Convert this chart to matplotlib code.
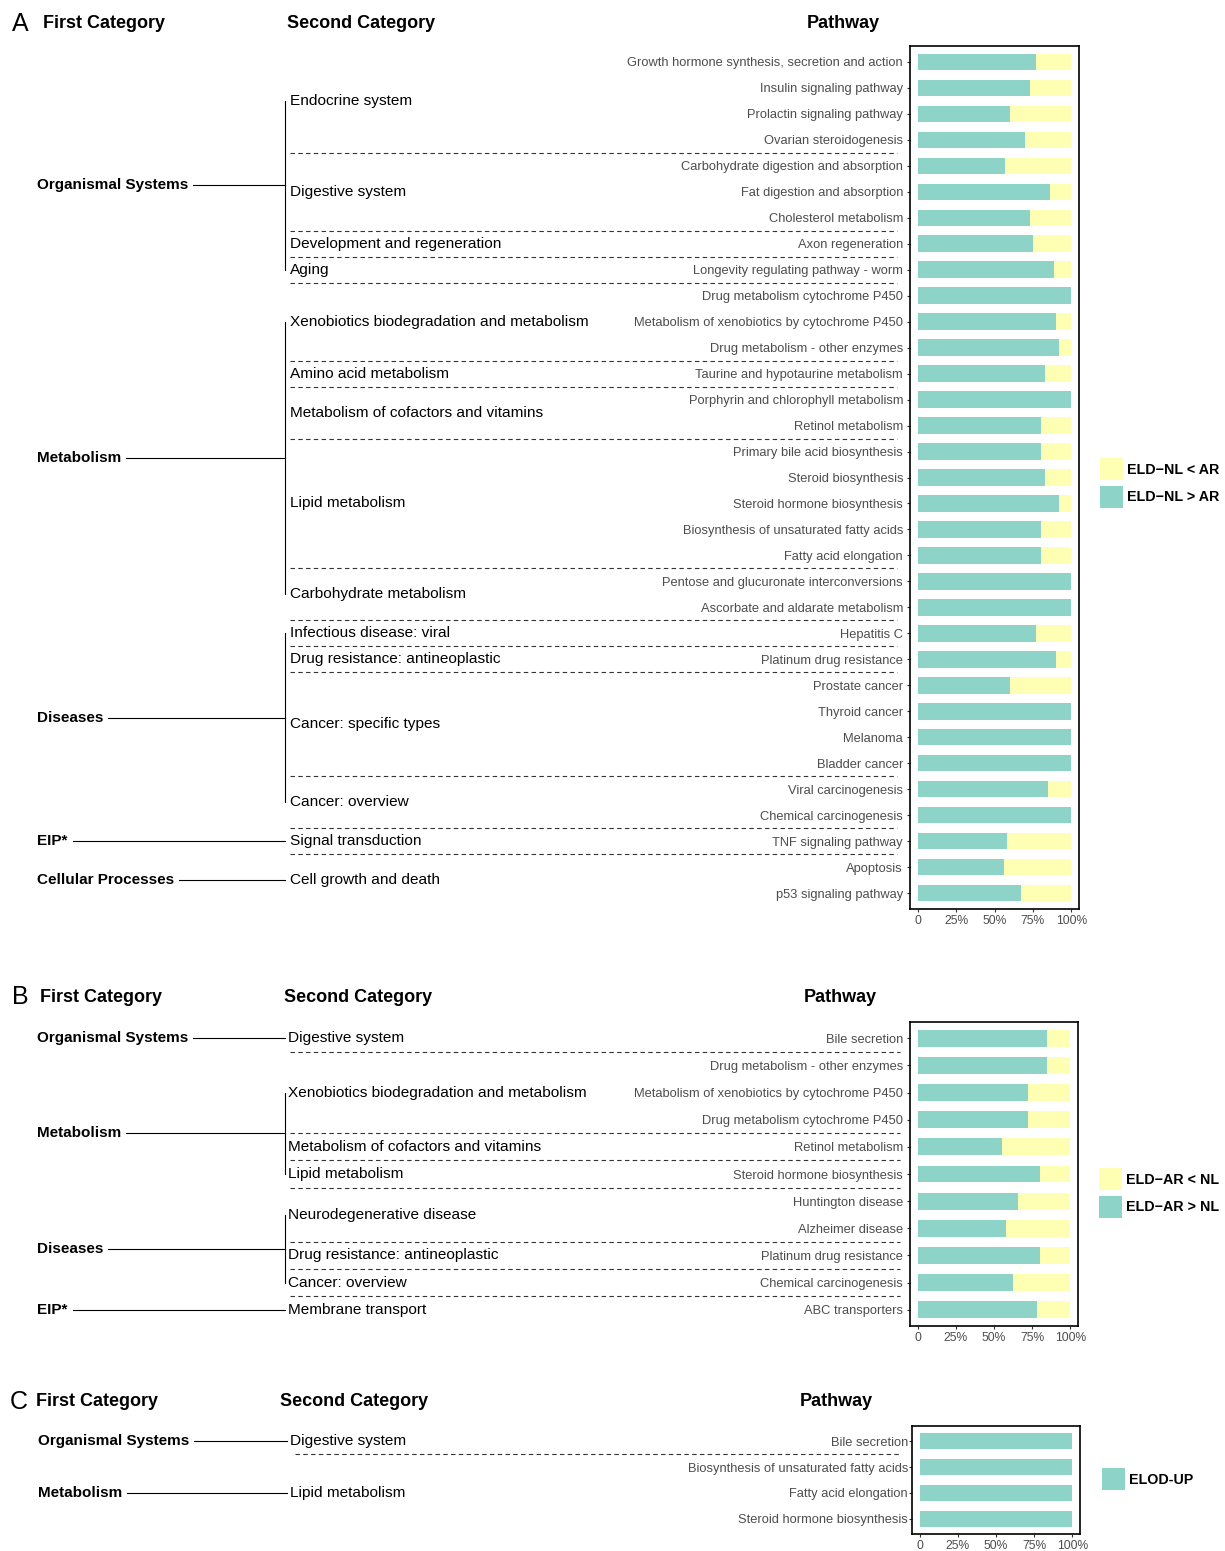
import numpy as np
import matplotlib
matplotlib.use("Agg")
import matplotlib.pyplot as plt
from matplotlib import transforms
from matplotlib.patches import Patch

plt.rcParams["font.family"] = ["Liberation Sans", "DejaVu Sans"]

GREEN = "#8DD3C7"
YELLOW = "#FFFFB3"

# ---- panel A: ELD-NL vs AR ----
pathways_a = [
    "Growth hormone synthesis, secretion and action", "Insulin signaling pathway",
    "Prolactin signaling pathway", "Ovarian steroidogenesis",
    "Carbohydrate digestion and absorption", "Fat digestion and absorption",
    "Cholesterol metabolism", "Axon regeneration", "Longevity regulating pathway - worm",
    "Drug metabolism cytochrome P450", "Metabolism of xenobiotics by cytochrome P450",
    "Drug metabolism - other enzymes", "Taurine and hypotaurine metabolism",
    "Porphyrin and chlorophyll metabolism", "Retinol metabolism",
    "Primary bile acid biosynthesis", "Steroid biosynthesis", "Steroid hormone biosynthesis",
    "Biosynthesis of unsaturated fatty acids", "Fatty acid elongation",
    "Pentose and glucuronate interconversions", "Ascorbate and aldarate metabolism",
    "Hepatitis C", "Platinum drug resistance", "Prostate cancer", "Thyroid cancer",
    "Melanoma", "Bladder cancer", "Viral carcinogenesis", "Chemical carcinogenesis",
    "TNF signaling pathway", "Apoptosis", "p53 signaling pathway",
]
up_a = [0.77, 0.73, 0.60, 0.70, 0.57, 0.86, 0.73, 0.75, 0.89, 1.00, 0.90,
        0.92, 0.83, 1.00, 0.80, 0.80, 0.83, 0.92, 0.80, 0.80, 1.00, 1.00,
        0.77, 0.90, 0.60, 1.00, 1.00, 1.00, 0.85, 1.00, 0.58, 0.565, 0.67]
second_a = [
    "Endocrine system", "Digestive system", "Development and regeneration", "Aging",
    "Xenobiotics biodegradation and metabolism", "Amino acid metabolism",
    "Metabolism of cofactors and vitamins", "Lipid metabolism", "Carbohydrate metabolism",
    "Infectious disease: viral", "Drug resistance: antineoplastic",
    "Cancer: specific types", "Cancer: overview", "Signal transduction",
    "Cell growth and death",
]
second_a_rows = [4, 3, 1, 1, 3, 1, 2, 5, 2, 1, 1, 4, 2, 1, 2]
first_a = ["Organismal Systems", "Metabolism", "Diseases", "EIP*", "Cellular Processes"]
first_a_groups = [4, 5, 4, 1, 1]
legend_a = ["ELD\u2212NL < AR", "ELD\u2212NL > AR"]

# ---- panel B: ELD-AR vs NL ----
pathways_b = [
    "Bile secretion", "Drug metabolism - other enzymes",
    "Metabolism of xenobiotics by cytochrome P450", "Drug metabolism cytochrome P450",
    "Retinol metabolism", "Steroid hormone biosynthesis", "Huntington disease",
    "Alzheimer disease", "Platinum drug resistance", "Chemical carcinogenesis",
    "ABC transporters",
]
up_b = [0.85, 0.85, 0.72, 0.72, 0.55, 0.80, 0.66, 0.58, 0.80, 0.625, 0.78]
second_b = [
    "Digestive system", "Xenobiotics biodegradation and metabolism",
    "Metabolism of cofactors and vitamins", "Lipid metabolism",
    "Neurodegenerative disease", "Drug resistance: antineoplastic",
    "Cancer: overview", "Membrane transport",
]
second_b_rows = [1, 3, 1, 1, 2, 1, 1, 1]
first_b = ["Organismal Systems", "Metabolism", "Diseases", "EIP*"]
first_b_groups = [1, 3, 3, 1]
legend_b = ["ELD\u2212AR < NL", "ELD\u2212AR > NL"]

# ---- panel C: ELOD up ----
pathways_c = [
    "Bile secretion", "Biosynthesis of unsaturated fatty acids",
    "Fatty acid elongation", "Steroid hormone biosynthesis",
]
up_c = [1.0, 1.0, 1.0, 1.0]
second_c = ["Digestive system", "Lipid metabolism"]
second_c_rows = [1, 3]
first_c = ["Organismal Systems", "Metabolism"]
first_c_groups = [1, 1]
legend_c = ["ELOD-UP"]

W, H = 1225, 1551
fig = plt.figure(figsize=(W / 100, H / 100), dpi=100)
overlay = fig.add_axes([0, 0, 1, 1])
overlay.set_autoscale_on(False)
overlay.set_xlim(0, W)
overlay.set_ylim(H, 0)
overlay.axis("off")
renderer = fig.canvas.get_renderer()


def bar_axes(left, top, right, bottom):
    return fig.add_axes([left / W, 1 - bottom / H, (right - left) / W, (bottom - top) / H])


def draw_bars(ax, names, up, pad):
    y = np.arange(len(names))
    up = np.array(up)
    ax.barh(y, up, height=0.62, color=GREEN, linewidth=0)
    ax.barh(y, 1 - up, left=up, height=0.62, color=YELLOW, linewidth=0)
    ax.set_ylim(len(names) - 0.4, -0.6)
    ax.set_xlim(-0.05, 1.05)
    ax.set_yticks(y, names)
    ax.set_xticks([0, 0.25, 0.5, 0.75, 1.0], ["0", "25%", "50%", "75%", "100%"])
    ax.tick_params(axis="y", labelsize=9.3, labelcolor="#4D4D4D", color="#333333",
                   length=2.5, width=0.8, pad=pad)
    ax.tick_params(axis="x", labelsize=8.7, labelcolor="#4D4D4D", color="#333333",
                   length=2.5, width=0.8, pad=2)
    for s in ax.spines.values():
        s.set_linewidth(1.2)
        s.set_color("black")


def draw_tree(ax, first, first_groups, second, second_rows, x_first, x_vert, x_second, dash):
    blend = transforms.blended_transform_factory(overlay.transData, ax.transData)
    total = sum(second_rows)
    start = 0
    centers = []
    for name, n in zip(second, second_rows):
        c = start + (n - 1) / 2
        centers.append(c)
        overlay.text(x_second, c, name, transform=blend, ha="left", va="center",
                     fontsize=11.1, color="black")
        start += n
        if start < total:
            overlay.plot(dash, [start - 0.5, start - 0.5], transform=blend, color="#333333",
                         lw=0.8, linestyle=(0, (4, 3)))
    k = 0
    for name, g in zip(first, first_groups):
        cs = centers[k:k + g]
        ymid = (cs[0] + cs[-1]) / 2
        t = overlay.text(x_first, ymid, name, transform=blend, ha="left", va="center",
                         fontsize=11, fontweight="bold")
        x1 = t.get_window_extent(renderer).x1
        overlay.plot([x1 + 5, x_vert], [ymid, ymid], transform=blend, color="black", lw=0.8)
        if g > 1:
            overlay.plot([x_vert, x_vert], [cs[0], cs[-1]], transform=blend,
                         color="black", lw=0.8)
        k += g


def draw_header(y, letter, x_letter, x_first, x_second, x_path):
    overlay.text(x_letter, y, letter, fontsize=18, ha="left", va="center")
    overlay.text(x_first, y, "First Category", fontsize=13, fontweight="bold", ha="left", va="center")
    overlay.text(x_second, y, "Second Category", fontsize=13, fontweight="bold", ha="left", va="center")
    overlay.text(x_path, y, "Pathway", fontsize=13, fontweight="bold", ha="center", va="center")


def draw_legend(ax, labels, colors, x, y):
    handles = [Patch(facecolor=c, edgecolor="none", label=l) for l, c in zip(labels, colors)]
    ax.legend(handles=handles, loc="center left", bbox_to_anchor=(x, y),
              bbox_transform=overlay.transData, frameon=False, borderpad=0,
              handlelength=1.6, handleheight=2.0, handletextpad=0.25,
              labelspacing=0.35, prop={"weight": "bold", "size": 10.3})


# A
ax_a = bar_axes(910, 46, 1079, 909)
draw_bars(ax_a, pathways_a, up_a, 2.5)
draw_tree(ax_a, first_a, first_a_groups, second_a, second_a_rows, 37, 285, 290, [290, 897])
draw_header(24, "A", 12, 43, 287, 843)
draw_legend(ax_a, legend_a, [YELLOW, GREEN], 1093, 483)

# B
ax_b = bar_axes(910, 1022, 1078, 1326)
draw_bars(ax_b, pathways_b, up_b, 2.5)
draw_tree(ax_b, first_b, first_b_groups, second_b, second_b_rows, 37, 285, 288, [290, 900])
draw_header(997, "B", 12, 40, 284, 840)
draw_legend(ax_b, legend_b, [YELLOW, GREEN], 1092, 1193)

# C
ax_c = bar_axes(912, 1426, 1080, 1534)
draw_bars(ax_c, pathways_c, up_c, 0.3)
draw_tree(ax_c, first_c, first_c_groups, second_c, second_c_rows, 38, 287, 290, [295, 900])
draw_header(1402, "C", 10, 36, 280, 836)
draw_legend(ax_c, legend_c, [GREEN], 1095, 1479)

fig.savefig("out.png", dpi=100)
